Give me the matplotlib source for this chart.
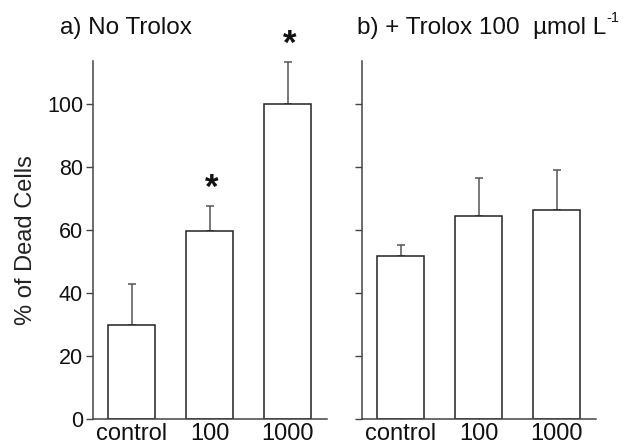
import matplotlib
matplotlib.use("Agg")
import matplotlib.pyplot as plt
from matplotlib.transforms import offset_copy
import numpy as np

plt.rcParams['font.family'] = ['Liberation Sans', 'DejaVu Sans']

categories = ['control', '100', '1000']

# panel a) no Trolox
no_trolox = [30, 59.7, 100]
no_trolox_err = [13, 8.1, 13.4]
no_trolox_sig = [False, True, True]

# panel b) + Trolox 100 umol/L
trolox = [51.8, 64.5, 66.5]
trolox_err = [3.6, 12.2, 12.7]
trolox_sig = [False, False, False]

y_ticks = [0, 20, 40, 60, 80, 100]

spine_col = '#444444'
edge_col = '#222222'
err_col = '#555555'


def draw_panel(ax, values, errors, sig, show_labels):
    x = np.arange(1, len(values) + 1)
    ax.bar(x, values, width=0.6, color='white', edgecolor=edge_col, linewidth=1.1, zorder=2)
    ax.errorbar(x, values, yerr=[np.zeros(len(errors)), errors], fmt='none',
                ecolor=err_col, elinewidth=1.1, capsize=3, capthick=1.1, zorder=1)
    for xi, v, e, s in zip(x, values, errors, sig):
        if s:
            ax.text(xi + 0.03, v + e + 5.5, '*', ha='center', va='center',
                    fontsize=25, fontweight='bold', color='#111111', clip_on=False)
    ax.set_xlim(0.5, 3.5)
    ax.set_ylim(0, 113.8)
    ax.set_xticks(x)
    ax.set_xticklabels(categories, fontsize=17)
    ax.set_yticks(y_ticks)
    if show_labels:
        ax.set_yticklabels([str(t) for t in y_ticks], fontsize=15.5)
    else:
        ax.set_yticklabels([])
    ax.tick_params(axis='x', direction='in', length=2, width=0.8, pad=3, colors=spine_col,
                   labelcolor='#111111')
    ax.tick_params(axis='y', direction='out', length=5, width=1, pad=2, colors=spine_col,
                   labelcolor='#111111')
    for sp in ['top', 'right']:
        ax.spines[sp].set_visible(False)
    for sp in ['left', 'bottom']:
        ax.spines[sp].set_color(spine_col)
        ax.spines[sp].set_linewidth(1.1)


fig = plt.figure(figsize=(6.24, 4.44), dpi=100)
ax1 = fig.add_axes([0.1486, 0.0556, 0.375, 0.8077])
ax2 = fig.add_axes([0.5796, 0.0556, 0.375, 0.8077])

draw_panel(ax1, no_trolox, no_trolox_err, no_trolox_sig, True)
draw_panel(ax2, trolox, trolox_err, trolox_sig, False)

ax1.set_ylabel('% of Dead Cells', fontsize=17, color='#222222', labelpad=7)

fig.text(60 / 624, 1 - 34 / 444, 'a) No Trolox', fontsize=17.5, color='#111111',
         ha='left', va='baseline')
tb = fig.text(356.7 / 624, 1 - 34 / 444, 'b) + Trolox 100  µmol L',
              fontsize=17.5, color='#111111', ha='left', va='baseline')

# superscript "-1" right after the unit text
fig.canvas.draw()
bb = tb.get_window_extent()
fig.text(bb.x1 / fig.bbox.width, (bb.y0 + 17) / fig.bbox.height, '-1',
         fontsize=10.5, color='#111111', ha='left', va='baseline')

plt.savefig('out.png', dpi=100)
plt.close(fig)
